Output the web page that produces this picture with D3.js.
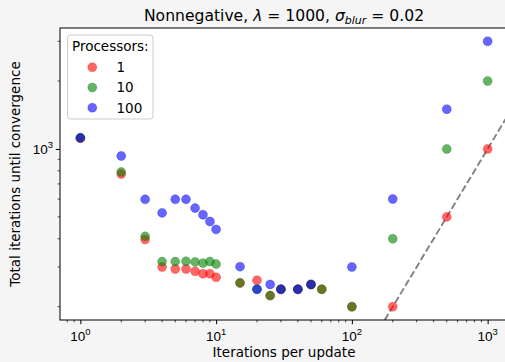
<!DOCTYPE html>
<html>
<head>
<meta charset="utf-8">
<script src="https://cdn.jsdelivr.net/npm/d3@7/dist/d3.min.js"></script>
<style>
  body { margin: 0; background: #f5f5f5; }
  svg { display: block; font-family: "DejaVu Sans", sans-serif; }
</style>
</head>
<body>
<div id="chart"></div>
<script>
// iterations per update (x) and total iterations until convergence (y) per processor count
const itersPerUpdate = [1, 2, 3, 4, 5, 6, 7, 8, 9, 10, 15, 20, 25, 30, 40, 50, 60, 100, 200, 500, 1000];
const procs1   = [1115, 774, 397, 300, 294, 294, 287, 280, 280, 270, 255, 262, 224, 239, 239, 251, 239, 200, 200, 500, 1000];
const procs10  = [1120, 791, 410, 317, 317, 318, 316, 312, 317, 309, 255, 239, 224, 239, 239, 251, 239, 200, 400, 1000, 2000];
const procs100 = [1120, 931, 598, 521, 598, 598, 547, 511, 477, 440, 301, 239, 251, 239, 239, 251, null, 300, 600, 1500, 3000];

const seriesNames = ["1", "10", "100"];
const seriesColors = ["#ff0000", "#008000", "#0000ff"];
const seriesValues = [procs1, procs10, procs100];

const xMajorTicks = [1, 10, 100, 1000];
const yMajorTicks = [1000];

const W = 505, H = 362;
const margin = { top: 28, right: -3, bottom: 42, left: 60 };
const fs = 13.5;

const svg = d3.select("#chart").append("svg")
  .attr("width", W).attr("height", H);

svg.append("rect").attr("width", W).attr("height", H).attr("fill", "#f5f5f5");

const x0 = margin.left, x1 = W - margin.right;
const y0 = margin.top, y1 = H - margin.bottom;

// matplotlib style 5% margins in log space
function logPad(vals) {
  const lo = Math.log10(d3.min(vals)), hi = Math.log10(d3.max(vals));
  const pad = (hi - lo) * 0.05;
  return [Math.pow(10, lo - pad), Math.pow(10, hi + pad)];
}
const allY = seriesValues.flat().filter(v => v != null);

const x = d3.scaleLog().domain(logPad(itersPerUpdate)).range([x0, x1]);
const y = d3.scaleLog().domain(logPad(allY)).range([y1, y0]);

svg.append("defs").append("clipPath").attr("id", "clip")
  .append("rect").attr("x", x0).attr("y", y0).attr("width", x1 - x0).attr("height", y1 - y0);

svg.append("rect")
  .attr("x", x0).attr("y", y0).attr("width", x1 - x0).attr("height", y1 - y0)
  .attr("fill", "#ffffff");

// minor ticks
function minorTicks(scale) {
  const [a, b] = scale.domain();
  const out = [];
  for (let e = Math.floor(Math.log10(a)); e <= Math.ceil(Math.log10(b)); e++) {
    for (let m = 2; m <= 9; m++) {
      const v = m * Math.pow(10, e);
      if (v >= a && v <= b) out.push(v);
    }
  }
  return out;
}

// y = x reference line
const diag = [x.domain()[0], x.domain()[1]];
svg.append("g").attr("clip-path", "url(#clip)")
  .append("line")
  .attr("x1", x(diag[0])).attr("y1", y(diag[0]))
  .attr("x2", x(diag[1])).attr("y2", y(diag[1]))
  .attr("stroke", "#808080")
  .attr("stroke-width", 1.9)
  .attr("stroke-dasharray", "7,3");

// scatter points
const pts = svg.append("g").attr("clip-path", "url(#clip)");
seriesValues.forEach((vals, si) => {
  pts.selectAll(null)
    .data(itersPerUpdate.map((it, i) => ({ it, v: vals[i] })).filter(d => d.v != null))
    .enter().append("circle")
    .attr("cx", d => x(d.it))
    .attr("cy", d => y(d.v))
    .attr("r", 4.5)
    .attr("fill", seriesColors[si])
    .attr("fill-opacity", 0.6)
    .attr("stroke", seriesColors[si])
    .attr("stroke-opacity", 0.35)
    .attr("stroke-width", 0.8);
});

// x axis
const xAxis = svg.append("g").attr("transform", `translate(0,${y1})`);
xAxis.call(d3.axisBottom(x).tickValues(xMajorTicks).tickSize(4.2).tickFormat(""))
  .call(g => g.select(".domain").remove());
xAxis.selectAll(null).data(minorTicks(x)).enter().append("line")
  .attr("x1", d => x(d)).attr("x2", d => x(d)).attr("y1", 0).attr("y2", 2.4)
  .attr("stroke", "#000").attr("stroke-width", 0.7);
xMajorTicks.forEach(t => {
  const txt = xAxis.append("text")
    .attr("x", x(t)).attr("y", 20.5)
    .attr("text-anchor", "middle")
    .attr("font-size", fs).attr("fill", "#000");
  txt.append("tspan").text("10");
  txt.append("tspan").attr("dy", -5.5).attr("font-size", 9.5).text(String(Math.round(Math.log10(t))));
});

// y axis
const yAxis = svg.append("g").attr("transform", `translate(${x0},0)`);
yAxis.call(d3.axisLeft(y).tickValues(yMajorTicks).tickSize(4.2).tickFormat(""))
  .call(g => g.select(".domain").remove());
yAxis.selectAll(null).data(minorTicks(y)).enter().append("line")
  .attr("y1", d => y(d)).attr("y2", d => y(d)).attr("x1", 0).attr("x2", -2.4)
  .attr("stroke", "#000").attr("stroke-width", 0.7);
yMajorTicks.forEach(t => {
  const txt = yAxis.append("text")
    .attr("x", -7).attr("y", y(t) + 5)
    .attr("text-anchor", "end")
    .attr("font-size", fs).attr("fill", "#000");
  txt.append("tspan").text("10");
  txt.append("tspan").attr("dy", -5.5).attr("font-size", 9.5).text(String(Math.round(Math.log10(t))));
});

// spines
svg.append("rect")
  .attr("x", x0).attr("y", y0).attr("width", x1 - x0).attr("height", y1 - y0)
  .attr("fill", "none").attr("stroke", "#000").attr("stroke-width", 1);

// labels
svg.append("text")
  .attr("x", (x0 + x1) / 2).attr("y", 357)
  .attr("text-anchor", "middle").attr("font-size", fs)
  .text("Iterations per update");

svg.append("text")
  .attr("transform", `translate(20,${(y0 + y1) / 2}) rotate(-90)`)
  .attr("text-anchor", "middle").attr("font-size", fs)
  .text("Total iterations until convergence");

// title
const title = svg.append("text")
  .attr("x", (x0 + x1) / 2).attr("y", 20.5)
  .attr("text-anchor", "middle").attr("font-size", 15.6);
title.append("tspan").text("Nonnegative, ");
title.append("tspan").attr("font-style", "italic").text("λ");
title.append("tspan").text(" = 1000, ");
title.append("tspan").attr("font-style", "italic").text("σ");
title.append("tspan").attr("font-style", "italic").attr("font-size", 11).attr("dy", 3).text("blur");
title.append("tspan").attr("dy", -3).text(" = 0.02");

// legend
const lg = svg.append("g");
lg.append("rect")
  .attr("x", 67.5).attr("y", 35).attr("width", 85.5).attr("height", 84)
  .attr("rx", 3)
  .attr("fill", "#ffffff").attr("fill-opacity", 0.8)
  .attr("stroke", "#cccccc").attr("stroke-width", 1);
lg.append("text")
  .attr("x", 110.3).attr("y", 51)
  .attr("text-anchor", "middle").attr("font-size", fs)
  .text("Processors:");
seriesNames.forEach((name, i) => {
  const cy = 67.3 + i * 20.2;
  lg.append("circle")
    .attr("cx", 92.3).attr("cy", cy).attr("r", 4.5)
    .attr("fill", seriesColors[i]).attr("fill-opacity", 0.6)
    .attr("stroke", seriesColors[i]).attr("stroke-opacity", 0.35).attr("stroke-width", 0.8);
  lg.append("text")
    .attr("x", 116.5).attr("y", cy + 4.8)
    .attr("font-size", fs)
    .text(name);
});
</script>
</body>
</html>
